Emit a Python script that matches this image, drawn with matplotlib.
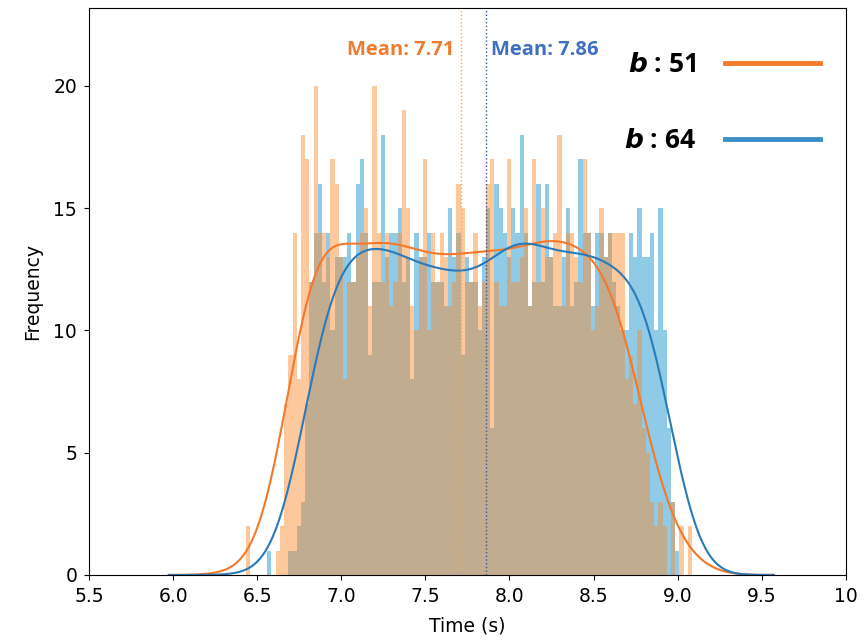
import numpy as np
import matplotlib.pyplot as plt
from matplotlib.lines import Line2D

# histogram bins shared by both runs
bin_start = 6.435
bin_width = 0.025

# counts per bin, b = 51 (orange) and b = 64 (blue)
orange_counts = [2, 0, 0, 0, 0, 0, 0, 1, 2, 7,
                 9, 14, 8, 18, 17, 12, 20, 14, 14, 13,
                 17, 16, 13, 8, 12, 12, 13, 14, 15, 11,
                 20, 14, 12, 14, 11, 12, 14, 19, 15, 11,
                 10, 13, 17, 10, 14, 12, 14, 13, 11, 12,
                 16, 15, 12, 12, 14, 11, 12, 16, 17, 12,
                 11, 11, 17, 12, 12, 13, 15, 11, 17, 12,
                 15, 13, 13, 14, 18, 11, 14, 14, 13, 12,
                 17, 14, 10, 11, 15, 13, 14, 14, 14, 14,
                 8, 9, 7, 10, 6, 5, 3, 2, 3, 2,
                 0, 3, 0, 2, 0, 2, 0]
blue_counts = [0, 0, 0, 0, 0, 1, 0, 0, 0, 0,
               1, 1, 2, 3, 7, 12, 14, 16, 12, 14,
               10, 13, 13, 13, 14, 12, 16, 17, 14, 9,
               12, 12, 18, 13, 14, 14, 15, 12, 13, 8,
               14, 13, 13, 14, 12, 12, 12, 11, 15, 13,
               14, 9, 13, 12, 12, 10, 13, 15, 6, 16,
               15, 14, 13, 15, 14, 18, 14, 11, 12, 16,
               12, 16, 13, 11, 11, 13, 15, 11, 12, 17,
               14, 14, 11, 14, 14, 13, 14, 12, 11, 10,
               10, 14, 13, 15, 13, 13, 14, 10, 15, 10,
               6, 3, 1, 0, 0, 0, 0]

mean_b51 = 7.71
mean_b64 = 7.86
legend_labels = [r'$\boldsymbol{b}$ : 51', r'$\boldsymbol{b}$ : 64']

xticks = [5.5, 6.0, 6.5, 7.0, 7.5, 8.0, 8.5, 9.0, 9.5, 10.0]
xtick_labels = ['5.5', '6.0', '6.5', '7.0', '7.5', '8.0', '8.5', '9.0', '9.5', '10']
yticks = [0, 5, 10, 15, 20]

edges = bin_start + bin_width * np.arange(len(orange_counts) + 1)
centers = edges[:-1] + bin_width / 2


def kde_curve(counts):
    """Gaussian KDE (Scott bandwidth) of the binned data, scaled to counts."""
    w = np.asarray(counts, dtype=float)
    n = w.sum()
    mu = np.sum(w * centers) / n
    sd = np.sqrt(np.sum(w * (centers - mu) ** 2) / (n - 1))
    bw = sd * n ** (-1 / 5)
    grid = np.linspace(edges[0] - 3 * bw, edges[-1] + 3 * bw, 500)
    k = np.exp(-0.5 * ((grid[None, :] - centers[:, None]) / bw) ** 2)
    dens = (w[:, None] * k).sum(axis=0) / (n * bw * np.sqrt(2 * np.pi))
    return grid, dens * n * bin_width


fig = plt.figure(figsize=(8.64, 6.41), dpi=100)
ax = fig.add_axes([0.103, 0.103, 0.876, 0.885])

ax.hist(centers, bins=edges, weights=blue_counts, color='#8fcbe6')
ax.hist(centers, bins=edges, weights=orange_counts, color='#fd8a30', alpha=0.47)

gx, gy = kde_curve(orange_counts)
ax.plot(gx, gy, color='#f5782a', lw=1.5)
gx, gy = kde_curve(blue_counts)
ax.plot(gx, gy, color='#2a7ab8', lw=1.5)

ax.axvline(mean_b51, color='#f7a64a', ls=':', lw=1)
ax.axvline(mean_b64, color='#34509e', ls=':', lw=1)
ax.text(mean_b51 - 0.04, 21.45, f'Mean: {mean_b51:.2f}', ha='right', va='center',
        color='#f07a30', fontsize=14.5, fontweight='bold', family='Open Sans')
ax.text(mean_b64 + 0.03, 21.45, f'Mean: {mean_b64:.2f}', ha='left', va='center',
        color='#3f6fbf', fontsize=14.5, fontweight='bold', family='Open Sans')

handles = [Line2D([], [], color='#f47b2c', lw=3.5),
           Line2D([], [], color='#3b8fc7', lw=3.5)]
ax.legend(handles, legend_labels, loc='upper left', bbox_to_anchor=(0.675, 0.965),
          markerfirst=False, frameon=False, handlelength=3.6, handletextpad=1.1,
          labelspacing=1.85, prop={'family': 'Open Sans', 'weight': 'bold', 'size': 19})

ax.set_xlim(5.5, 10)
ax.set_ylim(0, 23.2)
ax.set_xticks(xticks)
ax.set_xticklabels(xtick_labels)
ax.set_yticks(yticks)
ax.tick_params(labelsize=13.5, pad=5)
ax.set_xlabel('Time (s)', fontsize=13.5, labelpad=8)
ax.set_ylabel('Frequency', fontsize=13.5, labelpad=8)

fig.savefig('out.png', dpi=100)
